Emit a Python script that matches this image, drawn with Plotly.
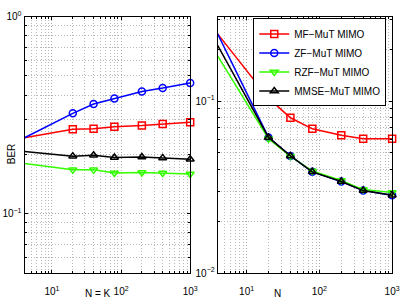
import plotly.graph_objects as go
import math

N = [4, 20, 40, 80, 200, 400, 1000]

# Left panel: N = K
left_mf = [0.243, 0.268, 0.270, 0.276, 0.280, 0.285, 0.291]
left_zf = [0.243, 0.323, 0.360, 0.384, 0.417, 0.434, 0.461]
left_rzf = [0.180, 0.167, 0.167, 0.161, 0.162, 0.161, 0.159]
left_mmse = [0.207, 0.196, 0.198, 0.193, 0.194, 0.192, 0.189]

# Right panel: varying N
right_mf = [0.246, 0.104, 0.080, 0.069, 0.0634, 0.0605, 0.0605]
right_zf = [0.246, 0.0615, 0.048, 0.0388, 0.0341, 0.0302, 0.0284]
right_rzf = [0.183, 0.0605, 0.0478, 0.0392, 0.0346, 0.0306, 0.0294]
right_mmse = [0.211, 0.0615, 0.048, 0.0388, 0.0341, 0.0302, 0.0284]

x_tickvals = [10, 100, 1000]
x_ticktext = ["10<sup>1</sup>", "10<sup>2</sup>", "10<sup>3</sup>"]
x_minor = [5, 6, 7, 8, 9, 20, 30, 40, 50, 60, 70, 80, 90,
           200, 300, 400, 500, 600, 700, 800, 900]
yl_tickvals = [0.1, 1]
yl_ticktext = ["10<sup>\u22121</sup>", "10<sup>0</sup>"]
yl_minor = [0.05, 0.06, 0.07, 0.08, 0.09, 0.2, 0.3, 0.4, 0.5, 0.6, 0.7, 0.8, 0.9]
yr_tickvals = [0.01, 0.1]
yr_ticktext = ["10<sup>\u22122</sup>", "10<sup>\u22121</sup>"]
yr_minor = [0.02, 0.03, 0.04, 0.05, 0.06, 0.07, 0.08, 0.09, 0.2, 0.3]

names = ["MF\u2212MuT MIMO", "ZF\u2212MuT MIMO", "RZF\u2212MuT MIMO", "MMSE\u2212MuT MIMO"]
colors = ["#ff0000", "#0000ff", "#33ff00", "#000000"]
symbols = ["square-open", "circle-open", "triangle-down-open", "triangle-up-open"]

FONT = "Liberation Sans, Arial, Helvetica, sans-serif"

fig = go.Figure()

left = [left_mf, left_zf, left_rzf, left_mmse]
right = [right_mf, right_zf, right_rzf, right_mmse]

for i in range(4):
    fig.add_trace(go.Scatter(
        x=N, y=left[i], mode="lines+markers", name=names[i],
        line=dict(color=colors[i], width=1.5),
        marker=dict(symbol=symbols[i], size=7, color=colors[i], line=dict(width=1.5, color=colors[i])),
        xaxis="x", yaxis="y", showlegend=False, cliponaxis=False))
for i in range(4):
    fig.add_trace(go.Scatter(
        x=N, y=right[i], mode="lines+markers", name=names[i],
        line=dict(color=colors[i], width=1.5),
        marker=dict(symbol=symbols[i], size=7, color=colors[i], line=dict(width=1.5, color=colors[i])),
        xaxis="x2", yaxis="y2", showlegend=True, cliponaxis=False))

W, H = 407, 305
ytop, ybot = 10, 278
dom_y = [1 - ybot / H, 1 - ytop / H]


def axis_style(minor_vals, standoff):
    return dict(
        type="log", showline=True, linecolor="black", linewidth=1, mirror="allticks",
        ticks="inside", ticklen=3, tickcolor="black", ticklabelstandoff=standoff,
        showgrid=True, gridcolor="#a8a8a8", griddash="1px,2px", gridwidth=1,
        tickfont=dict(family=FONT, size=10, color="black"),
        minor=dict(tickmode="array", tickvals=minor_vals, showgrid=True, gridcolor="#b8b8b8",
                   griddash="1px,2px", ticks="inside", ticklen=2, tickcolor="black"),
        zeroline=False,
    )


fig.update_layout(
    width=W, height=H,
    margin=dict(l=0, r=0, t=0, b=0),
    paper_bgcolor="white", plot_bgcolor="white",
    font=dict(family=FONT, size=10, color="black"),
    xaxis=dict(domain=[25 / W, 194 / W], range=[math.log10(4), 3], anchor="y",
               tickvals=x_tickvals, ticktext=x_ticktext, **axis_style(x_minor, 9)),
    yaxis=dict(domain=dom_y, range=[math.log10(0.05), 0], anchor="x",
               tickvals=yl_tickvals, ticktext=yl_ticktext, **axis_style(yl_minor, 0)),
    xaxis2=dict(domain=[222 / W, 400 / W], range=[math.log10(4), 3], anchor="y2",
                tickvals=x_tickvals, ticktext=x_ticktext, **axis_style(x_minor, 9)),
    yaxis2=dict(domain=dom_y, range=[-2, math.log10(0.31)], anchor="x2",
                tickvals=yr_tickvals, ticktext=yr_ticktext, **axis_style(yr_minor, 0)),
    legend=dict(x=394 / W, y=1 - 12 / H, xanchor="right", yanchor="top",
                bgcolor="white", bordercolor="black", borderwidth=1,
                font=dict(family=FONT, size=10, color="black"),
                tracegroupgap=0, itemwidth=30),
    annotations=[
        dict(text="BER", xref="paper", yref="paper", x=12 / W, y=1 - 153 / H,
             xanchor="center", yanchor="middle",
             textangle=-90, showarrow=False, font=dict(family=FONT, size=10)),
        dict(text="N = K", xref="paper", yref="paper", x=100 / W, y=1 - 299 / H,
             xanchor="center", yanchor="middle",
             showarrow=False, font=dict(family=FONT, size=10)),
        dict(text="N", xref="paper", yref="paper", x=283 / W, y=1 - 299 / H,
             xanchor="center", yanchor="middle",
             showarrow=False, font=dict(family=FONT, size=10)),
    ],
)

fig.write_html("out.html", config={"displayModeBar": False},
               post_script="document.body.style.margin='0';")
